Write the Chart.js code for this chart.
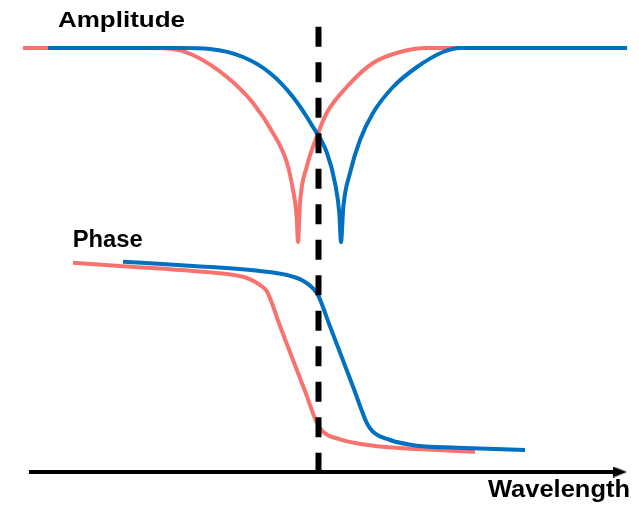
<!DOCTYPE html>
<html>
<head>
<meta charset="utf-8">
<title>Amplitude / Phase vs Wavelength</title>
<script src="https://cdn.jsdelivr.net/npm/chart.js@4.4.1/dist/chart.umd.min.js"></script>
<style>
  html, body { margin: 0; padding: 0; background: #fff; }
  #wrap { width: 639px; height: 505px; position: relative; }
</style>
</head>
<body>
<div id="wrap"><canvas id="resonanceChart"></canvas></div>
<script>
// Values (arbitrary units, wavelength axis sits at y = 0)

// Amplitude dips
const ampRedX  = [23, 150, 173, 193, 227, 253, 273, 287, 293, 296.7, 298, 300, 306.7, 316.7, 326.7, 346.7, 373, 400, 427, 625];
const ampRedY  = [424, 424, 423, 417, 395, 369, 339, 309, 282, 255, 230, 269, 305, 335, 359, 385, 409, 420, 424, 424];
const ampBlueX = [48, 180, 210, 243, 270, 293, 313, 327, 335, 339.3, 341, 343.3, 350, 360, 373, 393, 417, 443, 460, 627];
const ampBlueY = [424, 424, 423, 415, 399, 375, 345, 319, 289, 259, 230, 265, 299, 332, 359, 385, 405, 420, 424, 424];

// Phase steps
const phaseRedX  = [73, 127, 193, 227, 247, 260, 267, 280, 293, 305, 317, 323, 340, 373, 423, 475];
const phaseRedY  = [209.3, 205.5, 201, 198, 194, 187, 180.5, 146, 112, 81, 49, 40.3, 32.7, 26.3, 22.7, 20.3];
const phaseBlueX = [123, 193, 260, 287, 303, 313, 318, 330, 342, 354, 367, 373, 390, 417, 457, 525];
const phaseBlueY = [210.3, 206, 201, 197, 191.3, 183.7, 177, 145.6, 114.2, 82.8, 48.7, 40.3, 32, 26.3, 24.3, 22];

// Resonance marker and wavelength axis
const markerX = [318.5, 318.5];
const markerY = [445.3, 0];
const axisX = [29, 615];
const axisY = [0, 0];
const arrowX = [620];
const arrowY = [0];

// Panel labels
const labelText = ["Amplitude", "Phase", "Wavelength"];
const labelX = [58, 72.7, 488];
const labelY = [445.3, 225.3, -25];

const RED = "#F8736E";
const BLUE = "#0070C0";

function zip(xs, ys) {
  return xs.map((x, i) => ({ x: x, y: ys[i] }));
}

// small arrow head used as a point style
function makeArrowHead() {
  const c = document.createElement("canvas");
  c.width = 14;
  c.height = 11;
  const g = c.getContext("2d");
  g.fillStyle = "#000";
  g.beginPath();
  g.moveTo(0, 0);
  g.lineTo(14, 5.5);
  g.lineTo(0, 11);
  g.closePath();
  g.fill();
  return c;
}

// label look: font size and target width for each label
const labelSize = [22, 23, 24];
const labelWidth = [127, 70, 142];

const labelPlugin = {
  id: "panelLabels",
  afterDraw(chart) {
    const { ctx, scales } = chart;
    labelText.forEach((txt, i) => {
      ctx.save();
      ctx.font = "bold " + labelSize[i] + 'px "Liberation Sans", Arial, sans-serif';
      ctx.fillStyle = "#000";
      ctx.textBaseline = "alphabetic";
      const w = ctx.measureText(txt).width;
      ctx.translate(scales.x.getPixelForValue(labelX[i]), scales.y.getPixelForValue(labelY[i]));
      ctx.scale(labelWidth[i] / w, 1);
      ctx.fillText(txt, 0, 0);
      ctx.restore();
    });
  }
};

function curve(data, color, order) {
  return {
    data: data,
    borderColor: color,
    borderWidth: 4,
    pointRadius: 0,
    fill: false,
    cubicInterpolationMode: "monotone",
    order: order
  };
}

const ctx = document.getElementById("resonanceChart").getContext("2d");
new Chart(ctx, {
  type: "line",
  data: {
    datasets: [
      {
        data: zip(markerX, markerY),
        borderColor: "#000",
        borderWidth: 6,
        borderDash: [20, 15.5],
        pointRadius: 0,
        tension: 0,
        order: 0
      },
      {
        data: zip(axisX, axisY),
        borderColor: "#000",
        borderWidth: 4,
        pointRadius: 0,
        tension: 0,
        order: 1
      },
      {
        data: zip(arrowX, arrowY),
        showLine: false,
        pointStyle: makeArrowHead(),
        pointRadius: 7,
        order: 1
      },
      curve(zip(ampBlueX, ampBlueY), BLUE, 2),
      curve(zip(phaseBlueX, phaseBlueY), BLUE, 2),
      curve(zip(ampRedX, ampRedY), RED, 3),
      curve(zip(phaseRedX, phaseRedY), RED, 3)
    ]
  },
  options: {
    responsive: true,
    maintainAspectRatio: false,
    animation: false,
    layout: { padding: 0, autoPadding: false },
    scales: {
      x: { type: "linear", min: 0, max: 639, display: false },
      y: { type: "linear", min: -33, max: 472, display: false }
    },
    plugins: {
      legend: { display: false },
      tooltip: { enabled: false }
    }
  },
  plugins: [labelPlugin]
});
</script>
</body>
</html>
